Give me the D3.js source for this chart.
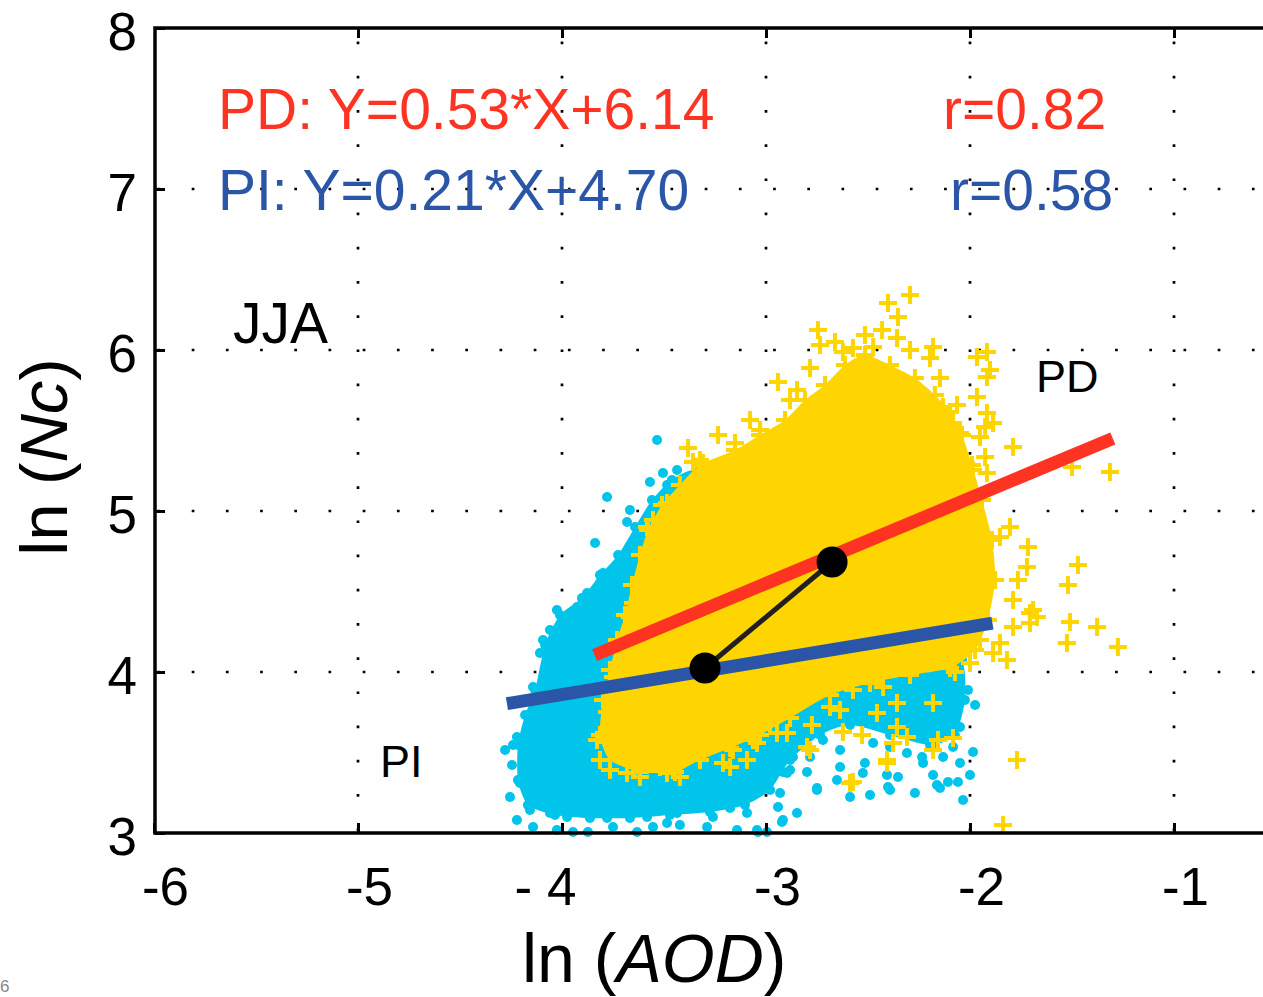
<!DOCTYPE html>
<html>
<head>
<meta charset="utf-8">
<script src="https://cdn.jsdelivr.net/npm/d3@7"></script>
<style>
  html, body { margin: 0; padding: 0; background: #fff; }
  svg { display: block; font-family: "Liberation Sans", Arial, Helvetica, sans-serif; }
</style>
</head>
<body>
<svg id="chart" width="1263" height="997"></svg>
<script>
// ---------------- data ----------------
const xTicks = [-6, -5, -4, -3, -2, -1];
const xTickLabels = ["-6", "-5", "- 4", "-3", "-2", "-1"];
const yTicks = [3, 4, 5, 6, 7, 8];
const yTickLabels = ["3", "4", "5", "6", "7", "8"];

const fitNames = ["PD", "PI"];
const fitSlope = [0.53, 0.21];
const fitIntercept = [6.14, 4.70];
const fitXStart = [-3.84, -4.27];
const fitXEnd = [-1.30, -1.89];
const fitR = [0.82, 0.58];

// mean points (PD, PI)
const meanX = [-2.676, -3.299];
const meanY = [4.683, 4.025];

// dense core of PI cloud (outline, ln AOD / ln Nc)
const piCoreX = [-4.132,-4.083,-4.010,-3.902,-3.814,-3.725,-3.642,-3.559,-3.461,-3.324,-3.029,-2.588,-2.196,-2.039,-2.025,-2.074,-2.196,-2.392,-2.588,-2.735,-2.882,-2.980,-3.103,-3.275,-3.471,-3.667,-3.863,-4.034,-4.167,-4.216,-4.216,-4.181];
const piCoreY = [3.888,4.168,4.354,4.460,4.602,4.727,4.901,5.068,5.193,5.255,5.068,4.696,4.323,4.075,3.826,3.609,3.547,3.609,3.671,3.609,3.453,3.267,3.174,3.130,3.112,3.093,3.093,3.112,3.174,3.329,3.547,3.733];

// dense core of PD cloud
const pdCoreX = [-3.324,-3.422,-3.510,-3.578,-3.618,-3.657,-3.691,-3.730,-3.765,-3.799,-3.814,-3.765,-3.618,-3.446,-3.324,-3.176,-3.029,-2.882,-2.686,-2.490,-2.294,-2.098,-1.975,-1.912,-1.877,-1.892,-1.941,-1.990,-2.039,-2.098,-2.172,-2.270,-2.392,-2.515,-2.613,-2.711,-2.809,-2.907,-3.029,-3.152];
const pdCoreY = [5.286,5.161,5.037,4.882,4.727,4.540,4.354,4.199,4.012,3.826,3.609,3.453,3.379,3.379,3.453,3.528,3.609,3.714,3.857,3.932,3.981,4.025,4.137,4.323,4.571,4.820,5.068,5.286,5.472,5.615,5.720,5.826,5.907,5.969,5.907,5.783,5.689,5.565,5.472,5.379];

// individual PI points (cyan dots)
const piX = [-3.534,-3.779,-3.838,-3.505,-3.436,-3.569,-3.485,-3.667,-3.681,-3.618,-3.716,-3.799,-3.814,-3.877,-3.779,-3.926,-4.025,-3.961,-4.059,-4.093,-4.108,-4.074,-4.142,
  -4.181,-4.279,-4.240,-4.181,-4.221,-4.255,-4.221,-4.206,-4.245,-4.157,
  -4.142,-4.025,-3.946,-3.873,-3.750,-3.632,-3.554,-3.485,-3.422,-3.289,-3.142,-3.039,-2.995,-3.093,-3.176,-3.260,-3.358,-3.436,-3.583,-3.681,-3.779,-3.863,-3.975,-4.059,-4.157,-4.093,
  -2.931,-2.995,-3.078,-3.142,-3.225,-3.309,-3.240,-3.358,-3.422,-3.485,-3.569,-2.897,-2.848,-2.922,-2.750,-2.652,-2.588,-2.490,-2.402,-2.270,-2.162,-2.034,-1.985,
  -3.044,-2.917,-2.941,-2.917,-2.882,-2.799,-2.750,-2.637,-2.525,-2.515,-2.407,-2.392,-2.353,-2.230,-2.181,-2.147,-2.108,-2.059,-2.000,-2.049,-2.083,-2.132,-2.186,-2.235,-2.309,-2.392,-2.475,-2.637,-2.721,-2.784,-2.868,-2.966,-3.064,
  -2.147,-2.064,-2.049,-2.113,-2.181,-2.230,-2.279,-2.328,-2.377,-2.441,-2.475,-2.525,-2.588,-2.637,-2.701,-2.735,-2.049,-2.083,-2.147,-2.108,-2.010,-1.975];
const piY = [5.441,5.087,4.801,5.236,5.255,5.180,5.161,5.006,4.932,4.839,4.714,4.615,4.553,4.491,4.447,4.404,4.385,4.342,4.261,4.199,4.118,4.031,3.907,
  3.826,3.516,3.547,3.516,3.596,3.224,3.081,3.311,3.422,3.658,
  3.037,3.019,3.006,3.006,3.037,3.006,3.037,3.062,3.050,3.037,3.019,3.006,3.006,3.124,3.155,3.099,3.161,3.124,3.099,3.124,3.093,3.099,3.099,3.124,3.143,3.267,
  3.248,3.329,3.373,3.329,3.286,3.311,3.205,3.248,3.224,3.224,3.186,3.373,3.124,3.068,3.267,3.329,3.224,3.236,3.286,3.248,3.298,3.205,3.503,
  3.019,3.081,3.161,3.379,3.391,3.379,3.280,3.410,3.373,3.435,3.360,3.267,3.348,3.435,3.360,3.280,3.317,3.317,3.360,3.435,3.534,3.472,3.534,3.472,3.497,3.534,3.559,3.516,3.578,3.472,3.472,3.516,3.453,
  3.764,3.764,3.658,3.640,3.702,3.783,3.845,3.764,3.658,3.783,3.870,3.764,3.826,3.745,3.826,3.702,3.969,3.888,3.907,3.826,3.888,3.795];

// individual PD points (yellow crosses)
const pdX = [-2.294,-2.402,-2.353,-2.745,-2.431,-2.662,-2.574,-2.475,-2.358,-2.294,-2.181,-2.196,-1.966,-1.917,-1.902,-1.917,-2.147,-2.941,-2.784,-2.848,-3.078,-3.235,-3.152,-3.382,-3.324,
  -2.064,-2.132,-1.917,-1.926,-2.083,-2.049,-1.951,-1.985,-1.917,-2.098,-1.985,-1.789,-1.314,-1.500,-1.926,-1.966,-1.887,
  -1.471,-1.520,-1.510,-1.377,-1.275,-1.525,-1.716,-1.721,-1.765,-1.691,-1.672,-1.789,-1.789,-1.853,-1.804,-1.887,-1.819,-1.951,-2.000,-1.770,-1.838,-2.074,-1.853,-1.706,-1.706,
  -2.083,-2.157,-2.181,-2.181,-2.358,-2.358,-2.407,-2.377,-2.456,-2.574,-2.529,-2.637,-2.623,-2.775,-2.799,-2.897,-2.980,-3.064,-3.093,-2.309,-2.426,-2.441,-2.574,-2.721,-2.686,
  -3.779,-3.828,-3.814,-3.765,-3.681,-3.618,-3.520,-3.422,-3.324,-3.211,-3.162,-3.044,-2.946,-2.784,-2.588,-2.407,-3.730,-3.652,-3.667,-3.485,-3.176,
  -3.358,-3.309,-3.240,-3.338,-3.407,-3.485,-3.422,-3.554,-3.583,-3.534,-3.485,-3.554,-3.569,-3.618,-3.632,-3.667,-3.632,-3.716,-3.750,
  -2.882,-3.029,-2.735,-2.623,-2.515];
const pdY = [6.342,6.292,6.205,6.124,6.124,6.050,6.012,6.019,6.075,6.000,6.019,5.950,5.957,5.988,5.876,5.832,5.826,5.801,5.888,5.752,5.565,5.472,5.422,5.391,5.317,
  5.658,5.646,5.609,5.522,5.547,5.484,5.460,5.255,5.236,5.366,5.112,5.398,5.242,5.273,5.335,5.708,5.547,
  4.665,4.540,4.311,4.280,4.155,4.180,4.776,4.652,4.571,4.385,4.342,4.280,4.447,4.839,4.901,4.118,4.075,4.199,4.056,3.453,3.050,4.000,4.180,4.366,4.304,
  3.590,3.578,3.516,3.807,3.807,3.658,3.435,3.559,3.745,3.317,3.609,3.764,3.627,3.671,3.534,3.621,3.683,3.578,3.453,3.596,3.907,3.969,3.888,3.932,3.783,
  3.752,3.578,3.453,3.391,3.373,3.348,3.410,3.348,3.453,3.435,3.516,3.559,3.621,3.516,3.311,3.453,3.702,4.429,4.342,3.373,3.410,
  5.304,5.298,5.273,5.174,5.087,5.050,5.006,4.944,4.901,4.801,4.739,4.714,4.634,4.528,4.323,4.242,4.137,4.031,3.969,
  5.689,5.503,6.031,5.988,6.093];

// ---------------- layout ----------------
const svg = d3.select("#chart");
const plotLeft = 155, plotTop = 28, plotBottom = 833;
const x = d3.scaleLinear().domain([-6, 0]).range([154, 1378]);
const y = d3.scaleLinear().domain([3, 8]).range([833, 28]);

const RED = "#FF3322", BLUE = "#2B56A8", CYAN = "#00C4EA", YELLOW = "#FFD500";
const W = 1263;

// grid
const grid = svg.append("g");
xTicks.filter(v => v > -6).forEach(v => {
  grid.append("line")
    .attr("x1", x(v)).attr("x2", x(v)).attr("y1", y(8)).attr("y2", y(3))
    .attr("stroke", "#000").attr("stroke-width", 2.7)
    .attr("stroke-dasharray", "2.7,31.5").attr("stroke-dashoffset", -13.6);
});
yTicks.filter(v => v > 3 && v < 8).forEach(v => {
  grid.append("line")
    .attr("x1", plotLeft).attr("x2", W).attr("y1", y(v)).attr("y2", y(v))
    .attr("stroke", "#000").attr("stroke-width", 2.7)
    .attr("stroke-dasharray", "2.7,31.5").attr("stroke-dashoffset", -2.5);
});

const crossPath = "M-9,0H9M0,-9V9";

// PI cloud
const hullLine = d3.line().x(d => x(d[0])).y(d => y(d[1])).curve(d3.curveCardinalClosed.tension(0.3));
const piAll = d3.zip(piX, piY).concat(d3.zip(piCoreX, piCoreY));
svg.append("path")
  .datum(d3.zip(piCoreX, piCoreY))
  .attr("d", hullLine)
  .attr("fill", CYAN);
svg.append("g").selectAll("circle")
  .data(piAll)
  .join("circle")
  .attr("cx", d => x(d[0])).attr("cy", d => y(d[1]))
  .attr("r", 5).attr("fill", CYAN);

// PD cloud
const pdAll = d3.zip(pdX, pdY).concat(d3.zip(pdCoreX, pdCoreY));
svg.append("path")
  .datum(d3.zip(pdCoreX, pdCoreY))
  .attr("d", hullLine)
  .attr("fill", YELLOW);
svg.append("g").selectAll("path")
  .data(pdAll)
  .join("path")
  .attr("transform", d => `translate(${x(d[0])},${y(d[1])})`)
  .attr("d", crossPath)
  .attr("stroke", YELLOW).attr("stroke-width", 4).attr("fill", "none");

// regression lines
const fitColors = [RED, BLUE];
fitNames.forEach((n, i) => {
  const f = v => fitSlope[i] * v + fitIntercept[i];
  svg.append("line")
    .attr("x1", x(fitXStart[i])).attr("y1", y(f(fitXStart[i])))
    .attr("x2", x(fitXEnd[i])).attr("y2", y(f(fitXEnd[i])))
    .attr("stroke", fitColors[i]).attr("stroke-width", 13);
});

// mean shift
svg.append("line")
  .attr("x1", x(meanX[1])).attr("y1", y(meanY[1]))
  .attr("x2", x(meanX[0])).attr("y2", y(meanY[0]))
  .attr("stroke", "#231F20").attr("stroke-width", 5);
svg.append("g").selectAll("circle")
  .data(d3.zip(meanX, meanY))
  .join("circle")
  .attr("cx", d => x(d[0])).attr("cy", d => y(d[1]))
  .attr("r", 15.5).attr("fill", "#000");

// axes ticks
const xAxisB = d3.axisBottom(x).tickValues(xTicks).tickSizeInner(-10).tickSizeOuter(0)
  .tickFormat((d, i) => xTickLabels[i]).tickPadding(0);
const gxb = svg.append("g").attr("transform", `translate(0,${plotBottom})`).call(xAxisB);
gxb.select(".domain").remove();
gxb.selectAll(".tick line").attr("stroke", "#000").attr("stroke-width", 3);
gxb.selectAll(".tick text")
  .attr("font-size", 53).attr("font-family", "Liberation Sans, Arial, sans-serif")
  .attr("fill", "#000").attr("y", 72).attr("dy", 0)
  .attr("dx", d => d === -4 ? -17 : 11);

const xAxisT = d3.axisTop(x).tickValues(xTicks.filter(v => v > -6)).tickSizeInner(-10).tickSizeOuter(0).tickFormat("");
const gxt = svg.append("g").attr("transform", `translate(0,${plotTop})`).call(xAxisT);
gxt.select(".domain").remove();
gxt.selectAll(".tick line").attr("stroke", "#000").attr("stroke-width", 3);

const yAxis = d3.axisLeft(y).tickValues(yTicks).tickSizeInner(-10).tickSizeOuter(0)
  .tickFormat((d, i) => yTickLabels[i]).tickPadding(0);
const gy = svg.append("g").attr("transform", `translate(${plotLeft},0)`).call(yAxis);
gy.select(".domain").remove();
gy.selectAll(".tick line").attr("stroke", "#000").attr("stroke-width", 3);
gy.selectAll(".tick text")
  .attr("font-size", 53).attr("font-family", "Liberation Sans, Arial, sans-serif")
  .attr("fill", "#000").attr("x", -18).attr("dy", "0.36em").attr("y", 2);

// frame
svg.append("path")
  .attr("d", `M${W},${plotTop}H${plotLeft}V${plotBottom}H${W}`)
  .attr("fill", "none").attr("stroke", "#000").attr("stroke-width", 3.5);

// equations
fitNames.forEach((n, i) => {
  const base = [129, 210][i];
  svg.append("text")
    .attr("x", 218).attr("y", base)
    .attr("font-size", 57).attr("fill", fitColors[i])
    .text(`${n}: Y=${fitSlope[i].toFixed(2)}*X+${fitIntercept[i].toFixed(2)}`);
  svg.append("text")
    .attr("x", [943, 950][i]).attr("y", base)
    .attr("font-size", 57).attr("fill", fitColors[i])
    .text(`r=${fitR[i].toFixed(2)}`);
});

// annotations
svg.append("text").attr("x", 233).attr("y", 343).attr("font-size", 57).text("JJA");
svg.append("text").attr("x", 1036).attr("y", 392).attr("font-size", 45).text("PD");
svg.append("text").attr("x", 380).attr("y", 777).attr("font-size", 45).text("PI");
svg.append("text").attr("x", 0).attr("y", 992).attr("font-size", 17).attr("fill", "#888").text("6");

// axis titles
const xt = svg.append("text").attr("x", 522).attr("y", 982).attr("font-size", 68);
xt.append("tspan").text("ln (");
xt.append("tspan").attr("font-style", "italic").text("AOD");
xt.append("tspan").text(")");

const yt = svg.append("text").attr("transform", "translate(67,457) rotate(-90)")
  .attr("text-anchor", "middle").attr("font-size", 67);
yt.append("tspan").text("ln (");
yt.append("tspan").attr("font-style", "italic").text("Nc");
yt.append("tspan").text(")");
</script>
</body>
</html>
